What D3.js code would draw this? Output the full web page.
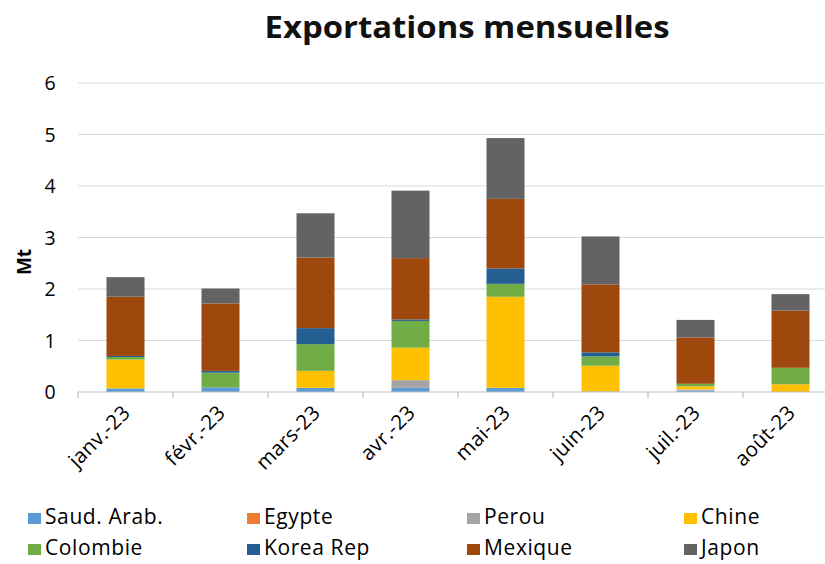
<!DOCTYPE html>
<html><head><meta charset="utf-8">
<script src="https://cdn.jsdelivr.net/npm/d3@7"></script>
<style>body{margin:0;background:#fff}svg{display:block}text{font-family:"Open Sans","Noto Sans",sans-serif}</style>
</head><body><svg id="c" width="825" height="564"></svg>
<script>
const months = ["janv.-23","févr.-23","mars-23","avr.-23","mai-23","juin-23","juil.-23","août-23"];
const seriesNames = ["Saud. Arab.","Egypte","Perou","Chine","Colombie","Korea Rep","Mexique","Japon"];
const colors = ["#5B9BD5","#ED7D31","#A5A5A5","#FFC000","#70AD47","#255E91","#9E480E","#636363"];
const saudArab = [0.07,0.09,0.08,0.08,0.08,0.01,0.03,0.00];
const egypte   = [0.00,0.00,0.00,0.00,0.00,0.00,0.00,0.00];
const perou    = [0.00,0.00,0.00,0.15,0.00,0.00,0.02,0.00];
const chine    = [0.56,0.00,0.33,0.63,1.77,0.50,0.06,0.15];
const colombie = [0.05,0.285,0.52,0.52,0.25,0.18,0.05,0.32];
const koreaRep = [0.02,0.035,0.31,0.03,0.30,0.08,0.00,0.00];
const mexique  = [1.15,1.31,1.37,1.19,1.35,1.32,0.90,1.11];
const japon    = [0.38,0.29,0.86,1.31,1.18,0.93,0.34,0.32];
const yTicks = [0,1,2,3,4,5,6];

const seriesValues = [saudArab,egypte,perou,chine,colombie,koreaRep,mexique,japon];
const table = months.map((m,i)=>{const r={month:m};seriesNames.forEach((s,j)=>r[s]=seriesValues[j][i]);return r;});
const stacked = d3.stack().keys(seriesNames)(table);

const svg = d3.select("#c");
const x = d3.scaleBand().domain(months).range([78,838]).paddingInner(0.6).paddingOuter(0.3);
const y = d3.scaleLinear().domain([0,6]).range([392,83]);

// grid
svg.append("g").selectAll("line").data(yTicks.filter(d=>d>0)).join("line")
  .attr("x1",78).attr("x2",838).attr("y1",d=>y(d)).attr("y2",d=>y(d))
  .attr("stroke","#d9d9d9").attr("stroke-width",1.2);

// bars
svg.append("g").selectAll("g").data(stacked).join("g")
  .attr("fill",(d,i)=>colors[i])
  .selectAll("rect").data(d=>d).join("rect")
  .attr("x",d=>x(d.data.month)).attr("width",x.bandwidth())
  .attr("y",d=>y(d[1])).attr("height",d=>Math.max(0,y(d[0])-y(d[1])));

// x axis
svg.append("line").attr("x1",78).attr("x2",838).attr("y1",y(0)).attr("y2",y(0)).attr("stroke","#bfbfbf").attr("stroke-width",1.2);
const bounds = d3.range(months.length+1).map(i=>78+i*x.step());
svg.append("g").selectAll("line").data(bounds).join("line")
  .attr("x1",d=>d).attr("x2",d=>d).attr("y1",y(0)).attr("y2",y(0)+6)
  .attr("stroke","#bfbfbf").attr("stroke-width",1.2);
svg.append("g").selectAll("text").data(months).join("text")
  .attr("transform",d=>`translate(${x(d)+x.bandwidth()/2+6},${y(0)+22}) rotate(-45)`)
  .attr("text-anchor","end").attr("font-size",20.5).attr("letter-spacing",0.3).attr("fill","#000").text(d=>d);

// y labels
svg.append("g").selectAll("text").data(yTicks).join("text")
  .attr("x",50).attr("y",d=>y(d)).attr("dy","0.36em").attr("text-anchor","middle")
  .attr("font-size",19.5).attr("fill","#000").text(d=>d);
svg.append("text").attr("transform","translate(31,262) rotate(-90)").attr("text-anchor","middle")
  .attr("font-size",19).attr("font-weight","bold").text("Mt");

// title
svg.append("text").attr("x",467).attr("y",38).attr("text-anchor","middle")
  .attr("font-size",31).attr("font-weight","bold").attr("fill","#111")
  .attr("textLength",405).attr("lengthAdjust","spacingAndGlyphs").text("Exportations mensuelles");

// legend
const colX = [28,247,467,684];
const rowY = [524,555];
const lg = svg.append("g").selectAll("g").data(seriesNames).join("g")
  .attr("transform",(d,i)=>`translate(${colX[i%4]},${rowY[Math.floor(i/4)]})`);
lg.append("rect").attr("x",0).attr("y",-11).attr("width",13).attr("height",11).attr("fill",(d,i)=>colors[i]);
lg.append("text").attr("x",17).attr("y",0).attr("font-size",21).attr("letter-spacing",0.6).attr("fill","#000").text(d=>d);
</script></body></html>
